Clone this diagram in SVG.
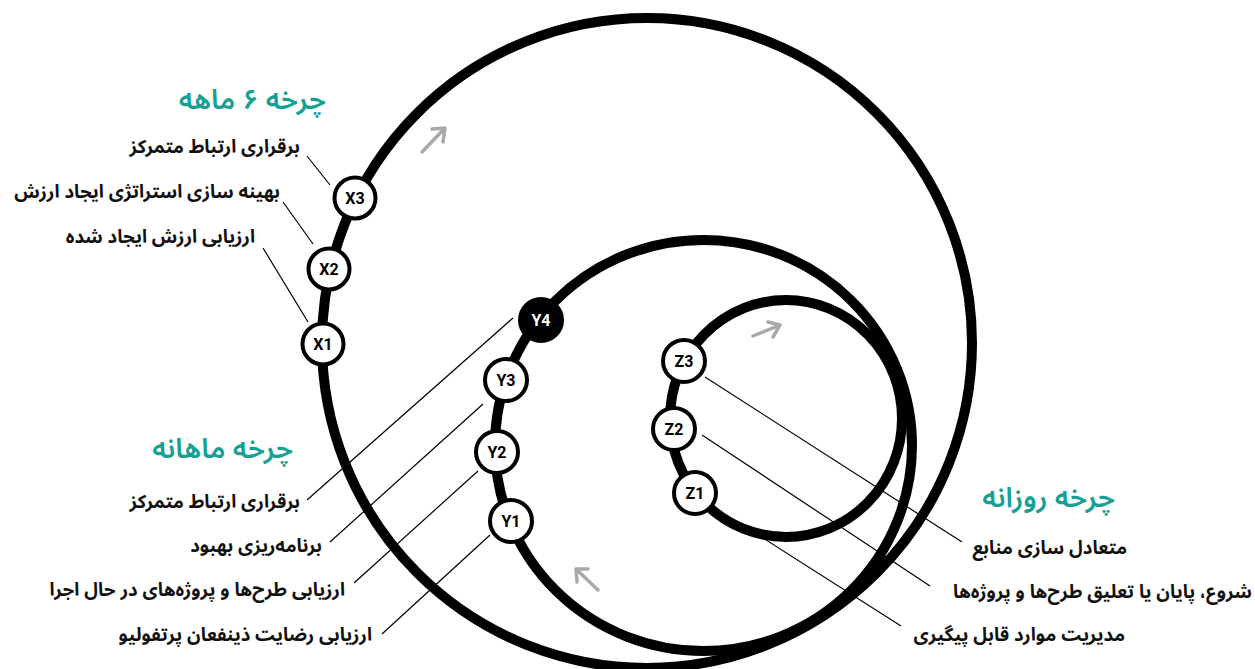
<svg xmlns="http://www.w3.org/2000/svg" width="1255" height="669" viewBox="0 0 1255 669">
  <defs>
    <style>
      .loop { fill: none; stroke: #000; stroke-width: 10; }
      .lead { stroke: #000; stroke-width: 1.2; fill: none; }
      .node { fill: #fff; stroke: #000; stroke-width: 4; }
      .node-dark { fill: #000; stroke: #000; stroke-width: 4; }
      .nl { font-family: Roboto, "Liberation Sans", sans-serif; font-weight: 700; font-size: 16px; fill: #000; text-anchor: middle; dominant-baseline: central; }
      .nl-w { fill: #fff; }
      .lbl { font-family: "Noto Sans Arabic", "DejaVu Sans", sans-serif; font-weight: 700; font-size: 18.6px; fill: #111; direction: rtl; text-anchor: start; }
      .ttl { font-family: "Noto Sans Arabic", "DejaVu Sans", sans-serif; font-weight: 600; font-size: 28px; fill: #17a096; direction: rtl; text-anchor: start; }
      .arw { fill: none; stroke: #aaa; stroke-width: 3.5; stroke-linecap: round; stroke-linejoin: round; }
    </style>
  </defs>
  <rect width="1255" height="669" fill="#fff"/>

  <g id="connectors">
    <!-- leader lines -->
    <line class="lead" x1="307" y1="156" x2="330" y2="185"/>
    <line class="lead" x1="283" y1="202" x2="313" y2="244"/>
    <line class="lead" x1="263" y1="248" x2="308" y2="322"/>
    <line class="lead" x1="513" y1="318" x2="307" y2="500"/>
    <line class="lead" x1="483" y1="404" x2="330" y2="542"/>
    <line class="lead" x1="478" y1="471" x2="354" y2="583"/>
    <line class="lead" x1="490" y1="535" x2="382" y2="634"/>
    <line class="lead" x1="705" y1="377" x2="962" y2="542"/>
    <line class="lead" x1="702" y1="435" x2="930" y2="586"/>
    <line class="lead" x1="752" y1="531" x2="901" y2="626"/>
    <!-- cycle loops -->
    <ellipse id="loop-6month" class="loop" cx="647" cy="343" rx="325" ry="325"/>
    <ellipse id="loop-monthly" class="loop" cx="703.5" cy="445.5" rx="208.5" ry="205.5"/>
    <ellipse id="loop-daily" class="loop" cx="786" cy="418.5" rx="116" ry="118.5"/>
    <!-- direction arrows -->
    <path class="arw" d="M422,152 L445,128 M432,129 L445,128 L443,142"/>
    <path class="arw" d="M753,336 L780,325 M768,322 L780,325 L773,337"/>
    <path class="arw" d="M598,590 L576,569 M588,569 L576,569 L577,582"/>
  </g>

  <g id="node-X1"><circle class="node" cx="323" cy="344" r="20.5"/><text class="nl" x="323" y="344">X1</text></g>
  <g id="node-X2"><circle class="node" cx="329" cy="269" r="20.5"/><text class="nl" x="329" y="269">X2</text></g>
  <g id="node-X3"><circle class="node" cx="355" cy="198" r="20.5"/><text class="nl" x="355" y="198">X3</text></g>

  <g id="node-Y1"><circle class="node" cx="511" cy="521" r="21"/><text class="nl" x="511" y="521">Y1</text></g>
  <g id="node-Y2"><circle class="node" cx="497" cy="452" r="21"/><text class="nl" x="497" y="452">Y2</text></g>
  <g id="node-Y3"><circle class="node" cx="506" cy="380" r="21"/><text class="nl" x="506" y="380">Y3</text></g>
  <g id="node-Y4"><circle class="node-dark" cx="541" cy="320" r="21"/><text class="nl nl-w" x="541" y="320">Y4</text></g>

  <g id="node-Z1"><circle class="node" cx="695" cy="493" r="21"/><text class="nl" x="695" y="493">Z1</text></g>
  <g id="node-Z2"><circle class="node" cx="674" cy="429" r="21"/><text class="nl" x="674" y="429">Z2</text></g>
  <g id="node-Z3"><circle class="node" cx="684" cy="361" r="21"/><text class="nl" x="684" y="361">Z3</text></g>

  <g id="labels-6month">
    <text class="ttl" x="326" y="109">چرخه ۶ ماهه</text>
    <text class="lbl" x="300" y="153">برقراری ارتباط متمرکز</text>
    <text class="lbl" x="280" y="198">بهینه سازی استراتژی ایجاد ارزش</text>
    <text class="lbl" x="255" y="243">ارزیابی ارزش ایجاد شده</text>
  </g>
  <g id="labels-monthly">
    <text class="ttl" x="293" y="458">چرخه ماهانه</text>
    <text class="lbl" x="300" y="508">برقراری ارتباط متمرکز</text>
    <text class="lbl" x="322" y="552">برنامه‌ریزی بهبود</text>
    <text class="lbl" x="345" y="596">ارزیابی طرح‌ها و پروژه‌های در حال اجرا</text>
    <text class="lbl" x="372" y="641">ارزیابی رضایت ذینفعان پرتفولیو</text>
  </g>
  <g id="labels-daily">
    <text class="ttl" x="1115" y="507">چرخه روزانه</text>
    <text class="lbl" x="1127" y="554">متعادل سازی منابع</text>
    <text class="lbl" x="1252" y="598">شروع، پایان یا تعلیق طرح‌ها و پروژه‌ها</text>
    <text class="lbl" x="1125" y="641">مدیریت موارد قابل پیگیری</text>
  </g>
</svg>
